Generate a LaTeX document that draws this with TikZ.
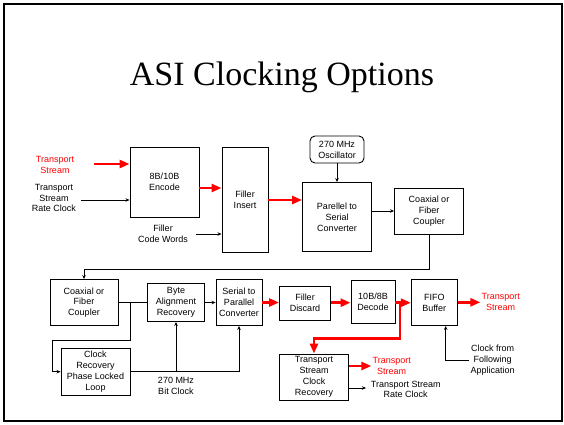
\documentclass[tikz,border=0pt]{standalone}
\usepackage{fontspec}
\setmainfont{Liberation Serif}
\newfontfamily\arialfont{Liberation Sans}
\usetikzlibrary{arrows.meta,positioning,calc}

\begin{document}
\begin{tikzpicture}[
  x=1pt, y=-1pt,
  blk/.style={draw, line width=0.9pt, inner sep=0pt, align=center, font=\arialfont\fontsize{9}{10.8}\selectfont},
  txt/.style={inner sep=1pt, align=center, font=\arialfont\fontsize{9}{10.8}\selectfont},
  rtxt/.style={txt, text=red},
  sig/.style={-{Stealth[length=4pt,width=3.5pt]}, line width=0.7pt},
  rsig/.style={-{Triangle[length=10pt,width=8pt]}, line width=2.7pt, red}
]
\useasboundingbox (0,0) rectangle (564,424);
\draw[line width=2pt] (3.5,3.5) rectangle (561.5,421);
\node[font=\fontsize{34}{40}\selectfont] (title) at (282,77) {ASI Clocking Options};

% Transmit side
\node[blk, minimum width=69pt, minimum height=70pt] (enc) at (164.5,182) {8B/10B\\Encode};
\node[blk, minimum width=46pt, minimum height=105pt] (fins) at (245,199.5) {Filler\\Insert};
\node[blk, rounded corners=5pt, minimum width=54pt, minimum height=27pt] (osc) at (337,149.5) {270 MHz\\Oscillator};
\node[blk, minimum width=69pt, minimum height=69pt] (p2s) at (337,217) {Parellel to\\Serial\\Converter};
\node[blk, minimum width=69pt, minimum height=46pt] (cpl) at (429,211) {Coaxial or\\Fiber\\Coupler};

\node[rtxt] (tsin) at (55,165) {Transport\\Stream};
\node[txt] (rclk) at (54,198) {Transport\\Stream\\Rate Clock};
\node[txt] (fcw) at (163,234) {Filler\\Code Words};
\coordinate (tsinA) at (94,164);
\coordinate (rclkA) at (81,200);
\coordinate (fcwA) at (196,234);

\draw[rsig] (tsinA) -- (tsinA -| enc.west);
\draw[sig] (rclkA) -- (rclkA -| enc.west);
\draw[rsig] (enc.east |- 0,188) -- (fins.west |- 0,188);
\draw[sig] (fcwA) -- (fcwA -| fins.west);
\draw[rsig] (fins.east |- 0,200) -- (p2s.west |- 0,200);
\draw[sig] (osc.south) -- (p2s.north);
\draw[sig] (p2s.east |- 0,211) -- (cpl.west |- 0,211);

% Receive side
\node[blk, minimum width=68pt, minimum height=46pt] (cpl2) at (84,302.5) {Coaxial or\\Fiber\\Coupler};
\node[blk, minimum width=57pt, minimum height=38pt] (bar) at (176,302.5) {Byte\\Alignment\\Recovery};
\node[blk, minimum width=46pt, minimum height=46pt] (s2p) at (239,302.5) {Serial to\\Parallel\\Converter};
\node[blk, minimum width=51pt, minimum height=34pt] (fdis) at (305,303) {Filler\\Discard};
\node[blk, minimum width=44pt, minimum height=43pt] (dec) at (373,302) {10B/8B\\Decode};
\node[blk, minimum width=46pt, minimum height=46pt] (fifo) at (434.3,302.5) {FIFO\\Buffer};
\node[blk, minimum width=69pt, minimum height=47pt] (cr) at (95.5,371.7) {Clock\\Recovery\\Phase Locked\\Loop};
\node[blk, minimum width=69pt, minimum height=46pt] (tscr) at (314,377) {Transport\\Stream\\Clock\\Recovery};

\node[txt] (bclk) at (176,386) {270 MHz\\Bit Clock};
\node[rtxt] (tsout) at (500.7,302.3) {Transport\\Stream};
\node[txt] (cfa) at (492.7,360) {Clock from\\Following\\Application};
\node[rtxt] (tsout2) at (391.7,366) {Transport\\Stream};
\node[txt] (rclk2) at (405.7,389.3) {Transport Stream\\Rate Clock};
\coordinate (spl) at (130,302.5);
\coordinate (dspl) at (400,302.5);
\coordinate (rclk2A) at (366,388);

\draw[sig] (cpl.south) -- ++(0,35) -| (cpl2.north);
\draw[line width=0.7pt] (cpl2.east) -- (bar.west);
\draw[sig] (spl) |- (52.3,340) |- (cr.west);
\draw[sig] (bar.east) -- (s2p.west);
\draw[sig] (cr.east) -| (s2p.south);
\draw[sig] (cr.east -| bar.south) -- (bar.south);
\draw[rsig] (s2p.east) -- (fdis.west |- s2p.east);
\draw[rsig] (fdis.east |- 0,302.7) -- (dec.west |- 0,302.7);
\draw[rsig] (dec.east |- 0,302.7) -- (fifo.west |- 0,302.7);
\draw[rsig] (dspl) -- ++(0,36) -| (tscr.north);
\draw[rsig] (fifo.east |- tsout.west) -- (tsout.west);
\draw[sig] (cfa.west) -| (fifo.south -| 445.7,0);
\draw[rsig] (tscr.east |- 0,366) -- (tsout2.west);
\draw[sig] (tscr.east |- rclk2A) -- (rclk2A);
\end{tikzpicture}
\end{document}
